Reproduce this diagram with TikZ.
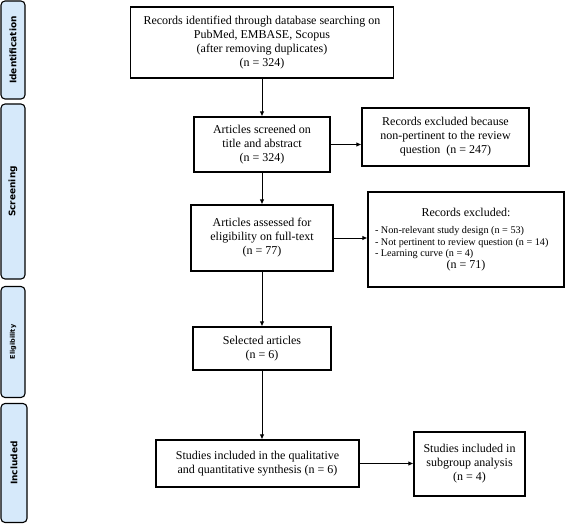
\documentclass[tikz,border=0pt]{standalone}
\usepackage{fontspec}
\setmainfont{Liberation Serif}
\newfontfamily\labfont{DejaVu Sans}
\usetikzlibrary{arrows.meta,calc}
\definecolor{labblue}{RGB}{214,233,250}
\tikzset{
  box/.style={draw=black, line width=1.1pt, fill=white, align=center, inner sep=0pt,
    font=\fontsize{12}{14}\selectfont},
  phase/.style={draw=black, line width=1.1pt, fill=labblue, rounded corners=4pt,
    rotate=90, inner sep=0pt, font=\labfont\bfseries\fontsize{9}{10}\selectfont},
  arr/.style={line width=0.9pt, -{Latex[length=5pt,width=4.5pt]}}
}
\begin{document}
\begin{tikzpicture}[x=1pt,y=-1pt]
\useasboundingbox (0,0) rectangle (568,524);
% phase labels
\node[phase, minimum width=98pt, minimum height=24pt] (pid) at (13,50) {Identification};
\node[phase, minimum width=175pt, minimum height=24pt] (psc) at (13,191.5) {Screening};
\node[phase, minimum width=111pt, minimum height=24pt, font=\labfont\bfseries\fontsize{6.5}{8}\selectfont] (pel) at (13,342) {Eligibility};
\node[phase, minimum width=119pt, minimum height=26pt] (pin) at (14,463) {Included};
% boxes
\node[box, minimum width=263pt, minimum height=71pt] (b1) at (262,42.5)
  {Records identified through database searching on\\PubMed, EMBASE, Scopus\\(after removing duplicates)\\(n = 324)};
\node[box, minimum width=136pt, minimum height=55pt] (b2) at (262,144.5)
  {Articles screened on\\title and abstract\\(n = 324)};
\node[box, minimum width=167pt, minimum height=58pt] (e1) at (445.5,137)
  {Records excluded because\\non-pertinent to the review\\question~ (n = 247)};
\node[box, minimum width=142pt, minimum height=66pt] (b3) at (262,238)
  {Articles assessed for\\eligibility on full-text\\(n = 77)};
\node[box, minimum width=196pt, minimum height=95pt] (e2) at (466,239.5)
  {Records excluded:\\[9pt]
   \parbox{182pt}{\raggedright\fontsize{10.2}{11.6}\selectfont
   - Non-relevant study design (n = 53)\\
   - Not pertinent to review question (n = 14)\\
   - Learning curve (n = 4)}\\
   (n = 71)};
\node[box, minimum width=138pt, minimum height=43pt] (b4) at (262,348.5)
  {Selected articles\\(n = 6)};
\node[box, minimum width=203pt, minimum height=47pt] (b5) at (257.5,463.5)
  {Studies included in the qualitative\\and quantitative synthesis (n = 6)};
\node[box, minimum width=111pt, minimum height=64pt] (e3) at (469.5,464)
  {Studies included in\\subgroup analysis\\(n = 4)};
% arrows
\draw[arr] (b1.south) -- (b2.north);
\draw[arr] (b2.east) -- (b2.east -| e1.west);
\draw[arr] (b2.south) -- (b3.north);
\draw[arr] (b3.east) -- (b3.east -| e2.west);
\draw[arr] (b3.south) -- (b4.north);
\draw[arr] (b4.south) -- (b4.south |- b5.north);
\draw[arr] (b5.east) -- (b5.east -| e3.west);
\end{tikzpicture}
\end{document}
